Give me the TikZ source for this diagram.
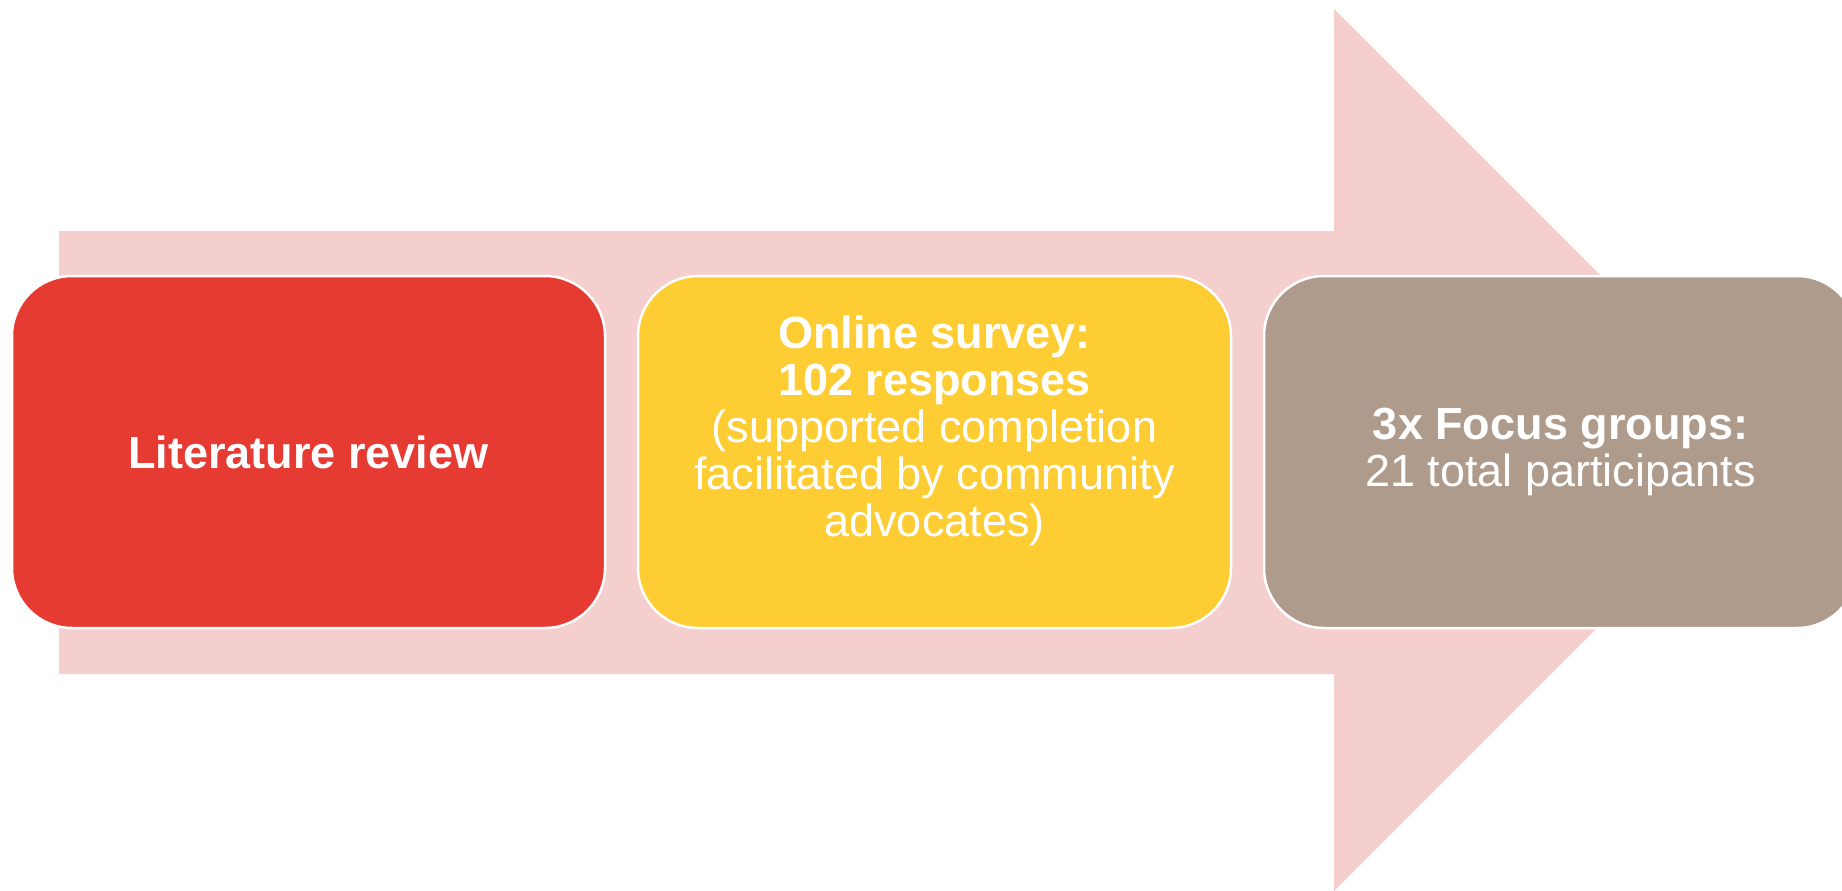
\documentclass[tikz,border=0pt]{standalone}
\usepackage{fontspec}
\setmainfont{Liberation Sans}
\usetikzlibrary{positioning}
\definecolor{arrowpink}{HTML}{F5CECE}
\definecolor{litred}{HTML}{E63B33}
\definecolor{surveyyellow}{HTML}{FECC33}
\definecolor{focustaupe}{HTML}{AE9B8B}
\tikzset{
  stepbox/.style={draw=white,line width=2.5pt,rounded corners=60pt,
    minimum width=593pt,minimum height=352pt,inner sep=0pt},
  steptext/.style={text=white,align=center,
    font=\fontsize{45}{47}\selectfont}
}

\begin{document}
\begin{tikzpicture}[x=1pt,y=-1pt]
    \useasboundingbox (0,0) rectangle (1842,891);
    \clip (0,0) rectangle (1842,891);
    % broad arrow behind the three steps
    \fill[arrowpink] (59,231) -- (1334,231) -- (1334,9) -- (1775,450)
      -- (1334,891) -- (1334,674) -- (59,674) -- cycle;
    %
    \node[stepbox,fill=litred] (lit) at (308.5,452) {};
    \node[stepbox,fill=surveyyellow,right=30.5pt of lit] (survey) {};
    \node[stepbox,fill=focustaupe,right=30.5pt of survey] (focus) {};
    %
    \node[steptext] (lit-text) at (lit.center) {\textbf{Literature review}};
    \node[steptext] (survey-text) at ([yshift=21pt]survey.center)
      {\textbf{Online survey:}\\ \textbf{102 responses}\\ (supported completion\\
       facilitated by community\\ advocates)};
    \node[steptext] (focus-text) at (focus.center)
      {\textbf{3x Focus groups:}\\ 21 total participants};
\end{tikzpicture}
\end{document}
